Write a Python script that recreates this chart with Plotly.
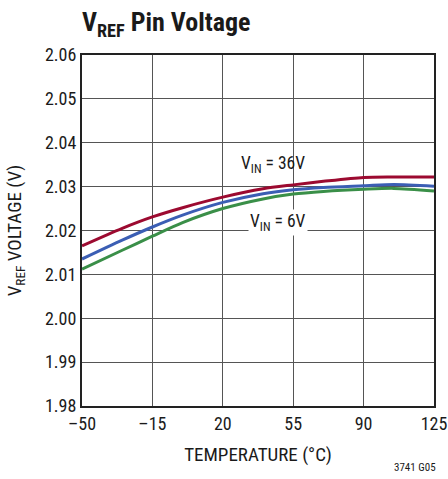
import plotly.graph_objects as go

temps = [-50, -30, -15, 0, 20, 40, 55, 70, 90, 105, 125]
v36 = [2.0165, 2.0205, 2.0231, 2.0252, 2.0276, 2.0295, 2.0304, 2.0312, 2.0321, 2.0322, 2.0322]
v_mid = [2.0135, 2.0178, 2.0208, 2.0235, 2.0264, 2.0284, 2.0293, 2.0298, 2.0302, 2.0305, 2.0301]
v6 = [2.0112, 2.0155, 2.0187, 2.0218, 2.0250, 2.0272, 2.0283, 2.0289, 2.0294, 2.0296, 2.0290]

x_ticks = [-50, -15, 20, 55, 90, 125]
x_labels = ["\u201350", "\u201315", "20", "55", "90", "125"]
y_ticks = [1.98, 1.99, 2.00, 2.01, 2.02, 2.03, 2.04, 2.05, 2.06]
y_labels = [f"{v:.2f}" for v in y_ticks]

FONT = "Liberation Sans Narrow, Roboto Condensed, Arial Narrow, Roboto, sans-serif"
TXT = "#1a1a1a"

fig = go.Figure()
for ys, col in [(v6, "#3a8f48"), (v_mid, "#3b5eb4"), (v36, "#9c0a30")]:
    fig.add_trace(go.Scatter(x=temps, y=ys, mode="lines",
                             line=dict(color=col, width=3, shape="spline", smoothing=0.8),
                             showlegend=False, hoverinfo="skip"))

W, H = 448, 479
L, T, R, B = 82, 55, 14, 73
fig.update_layout(
    width=W, height=H,
    margin=dict(l=L, r=R, t=T, b=B, autoexpand=False),
    paper_bgcolor="white", plot_bgcolor="white",
    font=dict(family=FONT, size=18, color=TXT),
    title=dict(text="<b>V<sub>REF</sub> Pin Voltage</b>", x=L/W, xanchor="left", y=1-22/H, yanchor="middle",
               font=dict(family=FONT, size=26, color=TXT)),
)
fig.update_xaxes(range=[-50, 125], tickvals=x_ticks, ticktext=x_labels, showgrid=True, automargin=False,
                 gridcolor="#555", gridwidth=1, showline=True, linecolor="#222", linewidth=2, mirror=True,
                 ticks="", zeroline=False, tickfont=dict(size=18),
                 title=dict(text="TEMPERATURE (°C)", font=dict(size=19), standoff=15))
fig.update_yaxes(range=[1.98, 2.06], tickvals=y_ticks, ticktext=y_labels, showgrid=True, automargin=False,
                 gridcolor="#555", gridwidth=1, showline=True, linecolor="#222", linewidth=2, mirror=True,
                 ticks="", zeroline=False, tickfont=dict(size=18),
                 title=dict(text="V<sub>REF</sub> VOLTAGE (V)", font=dict(size=19), standoff=18))

fig.add_annotation(x=45, y=2.0350, text="V<sub>IN</sub> = 36V", showarrow=False,
                   font=dict(family=FONT, size=17.5, color=TXT))
fig.add_annotation(x=47.5, y=2.0219, text="V<sub>IN</sub> = 6V", showarrow=False, bgcolor="white",
                   font=dict(family=FONT, size=17.5, color=TXT))
fig.add_annotation(xref="paper", yref="paper", x=1.01, y=-0.174, xanchor="right", yanchor="middle",
                   text="3741 G05", showarrow=False, font=dict(family=FONT, size=11, color=TXT))

fig.write_html("out.html", config={"displayModeBar": False, "staticPlot": True},
               post_script="document.body.style.margin='0';document.body.style.overflow='hidden';")
